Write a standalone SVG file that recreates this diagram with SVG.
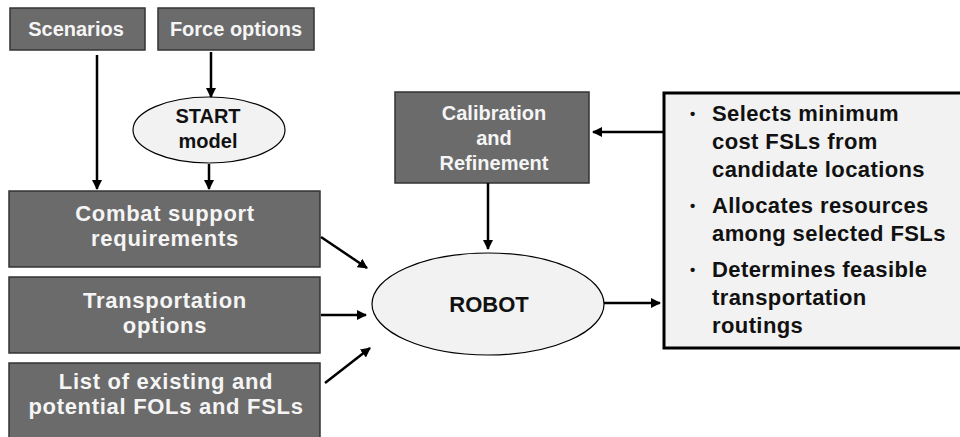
<svg xmlns="http://www.w3.org/2000/svg" width="960" height="437" viewBox="0 0 960 437">
<defs>
<marker id="ah" markerWidth="10" markerHeight="10" refX="9" refY="5" orient="auto" markerUnits="userSpaceOnUse">
<path d="M0,0 L10,5 L0,10 Z" fill="#000"/>
</marker>
<style>
.box{fill:#6b6b6b;stroke:#333;stroke-width:1.5}
.ell{fill:#f2f2f2;stroke:#000;stroke-width:1.2}
.wt{font-family:"Liberation Sans",Arial,sans-serif;font-weight:bold;fill:#f5f5f5;text-anchor:middle}
.ws{letter-spacing:0.7px}
.bt{font-family:"Liberation Sans",Arial,sans-serif;font-weight:bold;fill:#111}
.c{stroke:#000;stroke-width:2.5;fill:none;marker-end:url(#ah)}
</style>
</defs>
<rect width="960" height="437" fill="#fff"/>
<g id="scenarios"><rect class="box" x="10" y="8" width="135" height="42"/><text class="wt" x="76" y="36" font-size="20">Scenarios</text></g>
<g id="force"><rect class="box" x="158" y="8" width="156" height="42"/><text class="wt" x="236" y="36" font-size="20">Force options</text></g>
<g id="start"><ellipse class="ell" cx="209" cy="130" rx="76" ry="33"/><text class="bt" x="208" y="123" font-size="20" text-anchor="middle">START</text><text class="bt" x="208" y="148" font-size="20" text-anchor="middle">model</text></g>
<g id="combat"><rect class="box" x="9" y="191" width="311" height="76"/><text class="wt ws" x="165" y="221" font-size="22">Combat support</text><text class="wt ws" x="165" y="246" font-size="22">requirements</text></g>
<g id="transport"><rect class="box" x="9" y="277" width="311" height="76"/><text class="wt ws" x="165" y="308" font-size="22">Transportation</text><text class="wt ws" x="165" y="333" font-size="22">options</text></g>
<g id="list"><rect class="box" x="9" y="363" width="311" height="80"/><text class="wt ws" x="166" y="389" font-size="22">List of existing and</text><text class="wt ws" x="166" y="414" font-size="22">potential FOLs and FSLs</text></g>
<g id="calibration"><rect class="box" x="395" y="92" width="194" height="91"/><text class="wt" x="494" y="120" font-size="20">Calibration</text><text class="wt" x="494" y="145" font-size="20">and</text><text class="wt" x="494" y="170" font-size="20">Refinement</text></g>
<g id="robot"><ellipse class="ell" cx="488" cy="304" rx="116" ry="51"/><text class="bt" x="489" y="312" font-size="22" text-anchor="middle">ROBOT</text></g>
<g id="outputs"><rect x="664" y="93" width="300" height="255" fill="#f2f2f2" stroke="#000" stroke-width="3"/>
<g class="bt" font-size="22" letter-spacing="0.4">
<text x="690" y="119" font-size="15">•</text><text x="712" y="121">Selects minimum</text>
<text x="712" y="149">cost FSLs from</text>
<text x="712" y="177">candidate locations</text>
<text x="690" y="211" font-size="15">•</text><text x="712" y="213">Allocates resources</text>
<text x="712" y="241">among selected FSLs</text>
<text x="690" y="275" font-size="15">•</text><text x="712" y="277">Determines feasible</text>
<text x="712" y="305">transportation</text>
<text x="712" y="333">routings</text>
</g></g>
<g id="connectors">
<line class="c" x1="97" y1="55" x2="97" y2="189"/>
<line class="c" x1="211" y1="52" x2="211" y2="97"/>
<line class="c" x1="209" y1="164" x2="209" y2="189"/>
<line class="c" x1="321" y1="237" x2="367" y2="268"/>
<line class="c" x1="321" y1="315" x2="366" y2="315"/>
<line class="c" x1="325" y1="383" x2="370" y2="348"/>
<line class="c" x1="488" y1="183" x2="488" y2="249"/>
<line class="c" x1="663" y1="132" x2="593" y2="132"/>
<line class="c" x1="604" y1="303" x2="660" y2="303"/>
</g>
</svg>
